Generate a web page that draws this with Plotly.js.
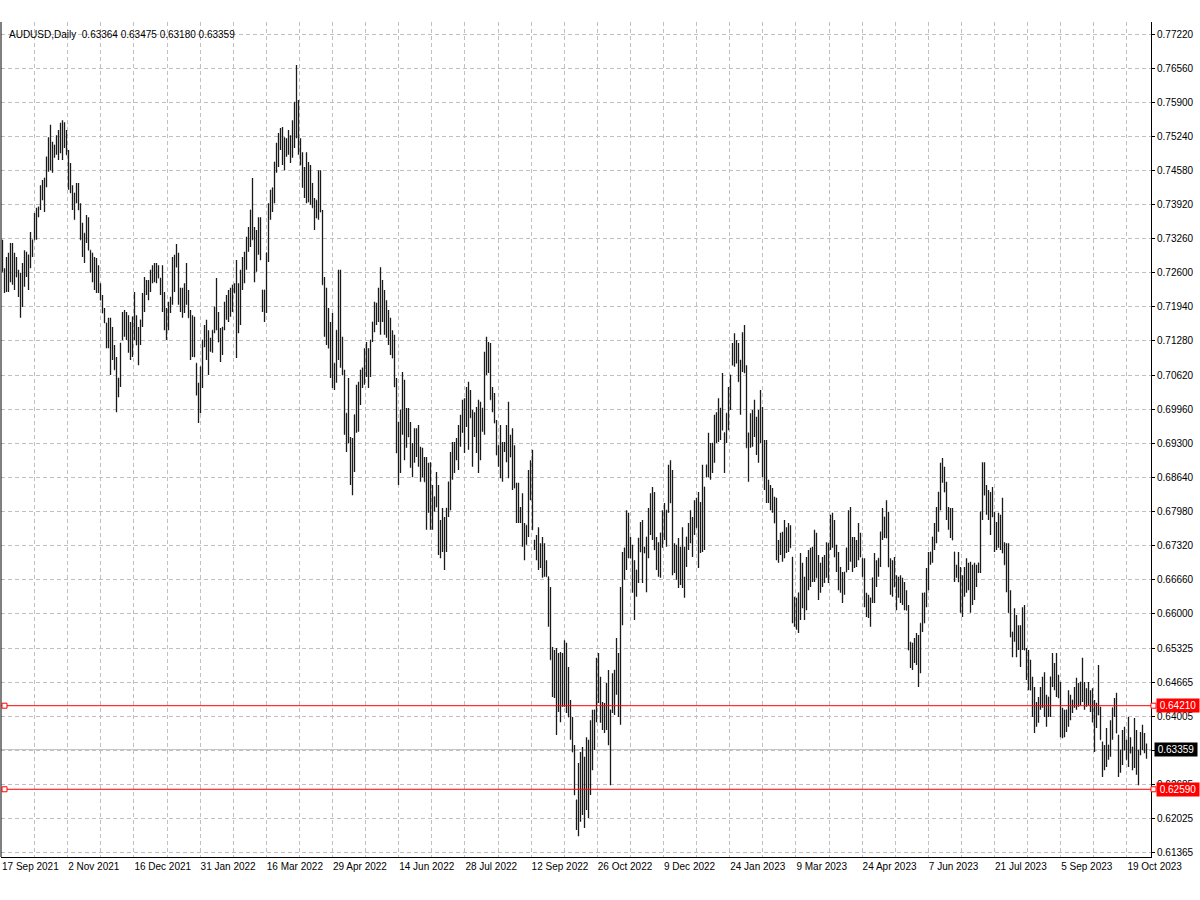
<!DOCTYPE html>
<html>
<head>
<meta charset="utf-8">
<script src="https://cdn.plot.ly/plotly-3.0.1.min.js"></script>
<style>html,body{margin:0;padding:0;background:#fff}#chart{width:1200px;height:900px}</style>
</head>
<body>
<div id="chart"></div>
<script>
const symbolName = "AUDUSD,Daily";
const dateLabels = ["17 Sep 2021","2 Nov 2021","16 Dec 2021","31 Jan 2022","16 Mar 2022","29 Apr 2022","14 Jun 2022","28 Jul 2022","12 Sep 2022","26 Oct 2022","9 Dec 2022","24 Jan 2023","9 Mar 2023","24 Apr 2023","7 Jun 2023","21 Jul 2023","5 Sep 2023","19 Oct 2023"];

const openPrices = [
0.7300,0.7262,0.7256,0.7260,0.7279,0.7277,0.7262,0.7271,0.7252,0.7215,
0.7237,0.7268,0.7275,0.7260,0.7295,0.7306,0.7324,0.7355,0.7378,0.7388,
0.7421,0.7411,0.7444,0.7485,0.7502,0.7483,0.7494,0.7508,0.7508,0.7521,
0.7518,0.7527,0.7512,0.7489,0.7444,0.7415,0.7388,0.7415,0.7407,0.7382,
0.7324,0.7308,0.7337,0.7335,0.7304,0.7269,0.7258,0.7254,0.7248,0.7223,
0.7207,0.7182,0.7163,0.7143,0.7116,0.7122,0.7095,0.7072,0.7037,0.7056,
0.7130,0.7161,0.7157,0.7142,0.7128,0.7136,0.7175,0.7149,0.7120,0.7143,
0.7169,0.7217,0.7231,0.7227,0.7244,0.7258,0.7260,0.7260,0.7262,0.7250,
0.7229,0.7186,0.7161,0.7175,0.7198,0.7213,0.7258,0.7293,0.7271,0.7207,
0.7202,0.7211,0.7238,0.7200,0.7173,0.7138,0.7136,0.7085,0.7023,0.7033,
0.7078,0.7130,0.7130,0.7105,0.7120,0.7126,0.7149,0.7194,0.7155,0.7126,
0.7128,0.7155,0.7192,0.7196,0.7202,0.7209,0.7231,0.7221,0.7192,0.7211,
0.7258,0.7269,0.7297,0.7324,0.7345,0.7382,0.7324,0.7302,0.7332,0.7326,
0.7227,0.7196,0.7227,0.7299,0.7392,0.7401,0.7425,0.7475,0.7498,0.7520,
0.7506,0.7490,0.7502,0.7512,0.7500,0.7520,0.7547,0.7591,0.7541,0.7494,
0.7469,0.7434,0.7444,0.7436,0.7430,0.7409,0.7386,0.7384,0.7401,0.7419,
0.7378,0.7237,0.7175,0.7153,0.7114,0.7109,0.7058,0.7085,0.7149,0.7171,
0.7099,0.7062,0.6950,0.6988,0.6930,0.6884,0.6928,0.6985,0.7000,0.7037,
0.7056,0.7076,0.7091,0.7076,0.7093,0.7130,0.7165,0.7180,0.7198,0.7206,
0.7206,0.7182,0.7171,0.7153,0.7136,0.7122,0.7095,0.7039,0.6911,0.6932,
0.6994,0.6975,0.6959,0.6969,0.6942,0.6897,0.6924,0.6930,0.6924,0.6888,
0.6892,0.6878,0.6855,0.6843,0.6828,0.6804,0.6810,0.6826,0.6806,0.6744,
0.6762,0.6735,0.6762,0.6804,0.6855,0.6895,0.6901,0.6919,0.6921,0.6954,
0.6981,0.6963,0.7000,0.6983,0.7006,0.6979,0.6965,0.6955,0.6942,0.6954,
0.6975,0.6998,0.7099,0.7095,0.7068,0.7014,0.6998,0.6969,0.6907,0.6913,
0.6893,0.6923,0.6928,0.6936,0.6924,0.6903,0.6884,0.6843,0.6814,0.6791,
0.6781,0.6738,0.6752,0.6771,0.6859,0.6839,0.6742,0.6727,0.6725,0.6711,
0.6707,0.6703,0.6686,0.6671,0.6579,0.6510,0.6483,0.6448,0.6465,0.6457,
0.6471,0.6483,0.6475,0.6448,0.6399,0.6364,0.6331,0.6238,0.6238,0.6263,
0.6275,0.6252,0.6289,0.6279,0.6320,0.6355,0.6374,0.6413,0.6475,0.6432,
0.6401,0.6397,0.6419,0.6417,0.6345,0.6413,0.6446,0.6490,0.6461,0.6517,
0.6647,0.6696,0.6727,0.6750,0.6727,0.6707,0.6645,0.6657,0.6684,0.6746,
0.6719,0.6723,0.6717,0.6748,0.6793,0.6793,0.6779,0.6723,0.6703,0.6711,
0.6756,0.6777,0.6764,0.6800,0.6855,0.6814,0.6707,0.6698,0.6698,0.6692,
0.6707,0.6678,0.6719,0.6748,0.6767,0.6748,0.6785,0.6795,0.6766,0.6766,
0.6802,0.6783,0.6864,0.6888,0.6893,0.6901,0.6930,0.6959,0.6975,0.6967,
0.6998,0.6950,0.6950,0.6988,0.7027,0.7081,0.7111,0.7107,0.7085,0.7049,
0.7091,0.7112,0.7066,0.6921,0.6950,0.6957,0.6977,0.6944,0.6942,0.6981,
0.6932,0.6888,0.6874,0.6835,0.6824,0.6818,0.6800,0.6775,0.6719,0.6735,
0.6729,0.6744,0.6742,0.6746,0.6748,0.6709,0.6603,0.6599,0.6601,0.6640,
0.6653,0.6628,0.6657,0.6684,0.6688,0.6694,0.6711,0.6711,0.6669,0.6669,
0.6680,0.6686,0.6703,0.6698,0.6736,0.6760,0.6744,0.6709,0.6682,0.6665,
0.6649,0.6657,0.6680,0.6727,0.6752,0.6713,0.6717,0.6715,0.6738,0.6733,
0.6707,0.6671,0.6616,0.6612,0.6601,0.6630,0.6669,0.6676,0.6688,0.6707,
0.6758,0.6766,0.6787,0.6746,0.6690,0.6667,0.6680,0.6651,0.6649,0.6647,
0.6641,0.6634,0.6626,0.6606,0.6529,0.6515,0.6527,0.6531,0.6508,0.6533,
0.6581,0.6610,0.6640,0.6682,0.6705,0.6719,0.6748,0.6771,0.6797,0.6835,
0.6876,0.6860,0.6835,0.6783,0.6775,0.6773,0.6719,0.6680,0.6690,0.6661,
0.6634,0.6661,0.6672,0.6671,0.6649,0.6655,0.6661,0.6672,0.6688,0.6698,
0.6797,0.6860,0.6829,0.6810,0.6793,0.6816,0.6787,0.6750,0.6760,0.6756,
0.6769,0.6717,0.6694,0.6669,0.6601,0.6554,0.6564,0.6556,0.6552,0.6537,
0.6570,0.6572,0.6529,0.6490,0.6481,0.6451,0.6413,0.6403,0.6413,0.6434,
0.6446,0.6442,0.6411,0.6419,0.6438,0.6477,0.6477,0.6481,0.6457,0.6436,
0.6388,0.6386,0.6391,0.6413,0.6417,0.6419,0.6432,0.6444,0.6442,0.6444,
0.6467,0.6440,0.6436,0.6444,0.6430,0.6422,0.6389,0.6401,0.6426,0.6403,
0.6351,0.6320,0.6339,0.6329,0.6345,0.6386,0.6417,0.6407,0.6364,0.6312,
0.6335,0.6356,0.6335,0.6351,0.6345,0.6329,0.6341,0.6329,0.6300,0.6335,
0.6358,0.6349,0.63364];

const highPrices = [
0.7324,0.7269,0.7291,0.7299,0.7318,0.7318,0.7299,0.7291,0.7266,0.7260,
0.7279,0.7304,0.7301,0.7295,0.7339,0.7324,0.7376,0.7386,0.7388,0.7430,
0.7440,0.7444,0.7485,0.7523,0.7547,0.7514,0.7508,0.7527,0.7537,0.7551,
0.7556,0.7552,0.7537,0.7498,0.7473,0.7430,0.7415,0.7434,0.7434,0.7395,
0.7357,0.7337,0.7372,0.7368,0.7304,0.7299,0.7291,0.7289,0.7275,0.7240,
0.7217,0.7192,0.7163,0.7173,0.7173,0.7155,0.7120,0.7097,0.7056,0.7124,
0.7184,0.7188,0.7184,0.7178,0.7165,0.7175,0.7223,0.7178,0.7155,0.7169,
0.7221,0.7252,0.7246,0.7246,0.7266,0.7275,0.7279,0.7279,0.7275,0.7250,
0.7275,0.7223,0.7192,0.7204,0.7213,0.7291,0.7295,0.7316,0.7299,0.7231,
0.7231,0.7240,0.7279,0.7227,0.7188,0.7178,0.7175,0.7085,0.7047,0.7078,
0.7130,0.7159,0.7169,0.7149,0.7134,0.7149,0.7194,0.7250,0.7184,0.7153,
0.7155,0.7204,0.7217,0.7227,0.7231,0.7237,0.7240,0.7285,0.7240,0.7266,
0.7291,0.7301,0.7330,0.7349,0.7382,0.7444,0.7349,0.7343,0.7368,0.7368,
0.7227,0.7227,0.7299,0.7395,0.7421,0.7425,0.7475,0.7512,0.7531,0.7541,
0.7543,0.7523,0.7521,0.7537,0.7527,0.7556,0.7591,0.7663,0.7595,0.7521,
0.7494,0.7465,0.7494,0.7475,0.7469,0.7434,0.7405,0.7401,0.7459,0.7459,
0.7382,0.7252,0.7231,0.7192,0.7165,0.7182,0.7085,0.7149,0.7266,0.7266,
0.7136,0.7072,0.6988,0.7056,0.6942,0.6940,0.6985,0.7043,0.7049,0.7072,
0.7076,0.7114,0.7126,0.7114,0.7130,0.7165,0.7204,0.7202,0.7231,0.7271,
0.7246,0.7227,0.7207,0.7188,0.7173,0.7149,0.7140,0.7056,0.6971,0.6994,
0.7068,0.7053,0.6998,0.6998,0.6971,0.6930,0.6959,0.6959,0.6965,0.6923,
0.6921,0.6903,0.6903,0.6892,0.6893,0.6849,0.6826,0.6874,0.6849,0.6781,
0.6804,0.6787,0.6804,0.6855,0.6913,0.6932,0.6932,0.6940,0.6965,0.6985,
0.7014,0.7017,0.7039,0.7049,0.7033,0.6994,0.6990,0.7000,0.7014,0.7010,
0.6998,0.7107,0.7136,0.7126,0.7124,0.7039,0.7027,0.6975,0.6926,0.6965,
0.6932,0.6932,0.6965,0.7010,0.6946,0.6959,0.6926,0.6853,0.6853,0.6806,
0.6833,0.6775,0.6771,0.6878,0.6897,0.6917,0.6742,0.6752,0.6767,0.6736,
0.6748,0.6736,0.6703,0.6671,0.6651,0.6535,0.6529,0.6533,0.6523,0.6525,
0.6523,0.6548,0.6543,0.6496,0.6432,0.6399,0.6345,0.6238,0.6310,0.6331,
0.6341,0.6322,0.6360,0.6355,0.6393,0.6413,0.6413,0.6514,0.6523,0.6477,
0.6428,0.6426,0.6465,0.6490,0.6413,0.6484,0.6490,0.6552,0.6523,0.6651,
0.6719,0.6727,0.6800,0.6795,0.6748,0.6733,0.6703,0.6684,0.6746,0.6777,
0.6781,0.6729,0.6748,0.6804,0.6833,0.6845,0.6835,0.6748,0.6738,0.6756,
0.6800,0.6814,0.6800,0.6888,0.6897,0.6878,0.6736,0.6733,0.6746,0.6729,
0.6767,0.6729,0.6748,0.6775,0.6800,0.6787,0.6819,0.6824,0.6835,0.6816,
0.6888,0.6845,0.6888,0.6950,0.6930,0.6930,0.6985,0.6990,0.7017,0.6998,
0.7066,0.6950,0.6988,0.7039,0.7062,0.7124,0.7143,0.7130,0.7124,0.7091,
0.7145,0.7159,0.7081,0.6950,0.6988,0.6994,0.7014,0.6981,0.6994,0.7033,
0.7000,0.6936,0.6936,0.6859,0.6849,0.6843,0.6826,0.6824,0.6742,0.6756,
0.6758,0.6781,0.6767,0.6775,0.6771,0.6709,0.6632,0.6630,0.6640,0.6717,
0.6698,0.6671,0.6709,0.6723,0.6727,0.6729,0.6762,0.6756,0.6713,0.6698,
0.6709,0.6713,0.6738,0.6736,0.6791,0.6795,0.6781,0.6733,0.6719,0.6690,
0.6680,0.6680,0.6727,0.6800,0.6806,0.6748,0.6748,0.6742,0.6775,0.6756,
0.6707,0.6707,0.6640,0.6636,0.6630,0.6669,0.6717,0.6703,0.6707,0.6758,
0.6804,0.6787,0.6819,0.6797,0.6707,0.6703,0.6709,0.6674,0.6671,0.6674,
0.6669,0.6661,0.6645,0.6616,0.6545,0.6543,0.6552,0.6562,0.6558,0.6581,
0.6640,0.6640,0.6688,0.6719,0.6719,0.6748,0.6775,0.6806,0.6835,0.6892,
0.6901,0.6884,0.6855,0.6806,0.6804,0.6804,0.6719,0.6694,0.6719,0.6690,
0.6674,0.6690,0.6707,0.6698,0.6700,0.6694,0.6698,0.6694,0.6698,0.6797,
0.6893,0.6893,0.6849,0.6839,0.6835,0.6845,0.6797,0.6777,0.6795,0.6791,
0.6824,0.6738,0.6736,0.6736,0.6645,0.6564,0.6610,0.6597,0.6577,0.6577,
0.6612,0.6616,0.6533,0.6529,0.6510,0.6477,0.6457,0.6428,0.6438,0.6457,
0.6477,0.6486,0.6442,0.6438,0.6477,0.6523,0.6504,0.6523,0.6481,0.6467,
0.6417,0.6413,0.6413,0.6451,0.6442,0.6432,0.6457,0.6475,0.6465,0.6467,
0.6514,0.6467,0.6455,0.6467,0.6451,0.6455,0.6432,0.6426,0.6500,0.6419,
0.6351,0.6345,0.6378,0.6345,0.6393,0.6417,0.6436,0.6446,0.6364,0.6335,
0.6374,0.6380,0.6355,0.6399,0.6360,0.6341,0.6397,0.6374,0.6335,0.6370,
0.6384,0.6368,0.63475];

const lowPrices = [
0.7262,0.7221,0.7223,0.7223,0.7242,0.7237,0.7227,0.7252,0.7213,0.7173,
0.7194,0.7233,0.7252,0.7227,0.7269,0.7291,0.7324,0.7324,0.7368,0.7382,
0.7401,0.7378,0.7426,0.7456,0.7459,0.7454,0.7483,0.7489,0.7479,0.7492,
0.7479,0.7502,0.7489,0.7421,0.7415,0.7382,0.7363,0.7395,0.7382,0.7324,
0.7291,0.7279,0.7318,0.7304,0.7260,0.7242,0.7227,0.7221,0.7221,0.7207,
0.7182,0.7163,0.7114,0.7114,0.7062,0.7091,0.7072,0.6990,0.7019,0.7039,
0.7130,0.7136,0.7130,0.7105,0.7091,0.7097,0.7130,0.7120,0.7081,0.7120,
0.7155,0.7184,0.7217,0.7207,0.7223,0.7240,0.7242,0.7240,0.7250,0.7217,
0.7184,0.7149,0.7130,0.7149,0.7182,0.7198,0.7223,0.7271,0.7198,0.7184,
0.7173,0.7182,0.7198,0.7173,0.7091,0.7097,0.7097,0.7023,0.6969,0.6988,
0.7037,0.7116,0.7091,0.7062,0.7107,0.7105,0.7143,0.7149,0.7126,0.7087,
0.7101,0.7149,0.7169,0.7165,0.7175,0.7184,0.7221,0.7095,0.7143,0.7159,
0.7227,0.7240,0.7266,0.7301,0.7310,0.7324,0.7242,0.7262,0.7295,0.7285,
0.7184,0.7165,0.7182,0.7281,0.7363,0.7378,0.7395,0.7454,0.7465,0.7498,
0.7469,0.7459,0.7485,0.7489,0.7473,0.7483,0.7502,0.7521,0.7489,0.7469,
0.7425,0.7405,0.7395,0.7397,0.7392,0.7386,0.7343,0.7366,0.7363,0.7378,
0.7237,0.7136,0.7120,0.7114,0.7056,0.7037,0.7033,0.7047,0.7091,0.7076,
0.7062,0.6946,0.6913,0.6930,0.6849,0.6829,0.6874,0.6950,0.6952,0.7004,
0.7037,0.7043,0.7058,0.7037,0.7058,0.7126,0.7145,0.7159,0.7165,0.7140,
0.7165,0.7140,0.7134,0.7120,0.7101,0.7095,0.7039,0.6911,0.6849,0.6872,
0.6946,0.6897,0.6921,0.6942,0.6882,0.6864,0.6892,0.6903,0.6884,0.6855,
0.6864,0.6855,0.6762,0.6795,0.6762,0.6762,0.6797,0.6806,0.6713,0.6707,
0.6719,0.6684,0.6719,0.6787,0.6800,0.6859,0.6872,0.6897,0.6878,0.6923,
0.6950,0.6911,0.6961,0.6917,0.6979,0.6884,0.6942,0.6911,0.6872,0.6897,
0.6952,0.6946,0.7062,0.7066,0.7014,0.6990,0.6969,0.6907,0.6884,0.6862,
0.6855,0.6913,0.6893,0.6862,0.6903,0.6839,0.6843,0.6775,0.6775,0.6775,
0.6729,0.6703,0.6733,0.6748,0.6819,0.6762,0.6723,0.6703,0.6684,0.6688,
0.6669,0.6671,0.6671,0.6574,0.6510,0.6438,0.6436,0.6364,0.6409,0.6389,
0.6419,0.6419,0.6407,0.6399,0.6355,0.6331,0.6248,0.6180,0.6168,0.6196,
0.6209,0.6184,0.6219,0.6203,0.6248,0.6296,0.6335,0.6389,0.6426,0.6388,
0.6374,0.6368,0.6374,0.6345,0.6267,0.6407,0.6403,0.6442,0.6399,0.6384,
0.6577,0.6665,0.6684,0.6707,0.6707,0.6640,0.6587,0.6632,0.6659,0.6719,
0.6659,0.6717,0.6641,0.6707,0.6752,0.6742,0.6723,0.6684,0.6671,0.6669,
0.6727,0.6742,0.6729,0.6795,0.6814,0.6674,0.6678,0.6665,0.6649,0.6655,
0.6649,0.6630,0.6690,0.6723,0.6736,0.6709,0.6752,0.6766,0.6688,0.6717,
0.6719,0.6723,0.6864,0.6864,0.6859,0.6872,0.6892,0.6930,0.6932,0.6936,
0.6955,0.6872,0.6930,0.6955,0.6994,0.7081,0.7078,0.7085,0.7049,0.6985,
0.7068,0.7066,0.6921,0.6855,0.6921,0.6923,0.6942,0.6907,0.6892,0.6930,
0.6864,0.6839,0.6814,0.6814,0.6800,0.6795,0.6775,0.6703,0.6698,0.6713,
0.6700,0.6707,0.6717,0.6719,0.6727,0.6581,0.6574,0.6568,0.6562,0.6587,
0.6610,0.6587,0.6606,0.6645,0.6651,0.6661,0.6661,0.6669,0.6626,0.6640,
0.6651,0.6659,0.6669,0.6659,0.6723,0.6727,0.6709,0.6680,0.6645,0.6640,
0.6620,0.6636,0.6680,0.6684,0.6700,0.6680,0.6688,0.6690,0.6703,0.6709,
0.6671,0.6612,0.6593,0.6591,0.6574,0.6620,0.6620,0.6651,0.6671,0.6690,
0.6742,0.6746,0.6746,0.6690,0.6636,0.6632,0.6651,0.6606,0.6630,0.6620,
0.6616,0.6606,0.6606,0.6529,0.6494,0.6490,0.6504,0.6500,0.6457,0.6484,
0.6564,0.6581,0.6612,0.6645,0.6694,0.6698,0.6723,0.6736,0.6758,0.6800,
0.6853,0.6835,0.6781,0.6762,0.6746,0.6742,0.6661,0.6669,0.6661,0.6601,
0.6593,0.6632,0.6640,0.6645,0.6601,0.6616,0.6626,0.6651,0.6678,0.6678,
0.6781,0.6829,0.6791,0.6781,0.6752,0.6787,0.6719,0.6723,0.6727,0.6723,
0.6717,0.6694,0.6641,0.6601,0.6554,0.6515,0.6545,0.6515,0.6529,0.6496,
0.6529,0.6529,0.6471,0.6451,0.6451,0.6399,0.6368,0.6380,0.6388,0.6413,
0.6417,0.6399,0.6380,0.6399,0.6399,0.6457,0.6451,0.6438,0.6436,0.6360,
0.6358,0.6360,0.6370,0.6380,0.6393,0.6407,0.6417,0.6413,0.6419,0.6422,
0.6428,0.6413,0.6419,0.6422,0.6409,0.6389,0.6331,0.6378,0.6403,0.6355,
0.6283,0.6296,0.6302,0.6316,0.6322,0.6355,0.6399,0.6368,0.6283,0.6291,
0.6306,0.6335,0.6316,0.6302,0.6329,0.6296,0.6300,0.6287,0.6267,0.6325,
0.6335,0.6329,0.63180];

const closePrices = [
0.7262,0.7256,0.7260,0.7279,0.7277,0.7262,0.7271,0.7252,0.7215,0.7237,
0.7268,0.7275,0.7260,0.7295,0.7306,0.7324,0.7355,0.7378,0.7388,0.7421,
0.7411,0.7444,0.7485,0.7502,0.7483,0.7494,0.7508,0.7508,0.7521,0.7518,
0.7527,0.7512,0.7489,0.7444,0.7415,0.7388,0.7415,0.7407,0.7382,0.7324,
0.7308,0.7337,0.7335,0.7304,0.7269,0.7258,0.7254,0.7248,0.7223,0.7207,
0.7182,0.7163,0.7143,0.7116,0.7122,0.7095,0.7072,0.7037,0.7056,0.7124,
0.7161,0.7157,0.7142,0.7128,0.7136,0.7175,0.7149,0.7120,0.7143,0.7169,
0.7217,0.7231,0.7227,0.7244,0.7258,0.7260,0.7260,0.7262,0.7250,0.7229,
0.7186,0.7161,0.7175,0.7198,0.7213,0.7258,0.7293,0.7271,0.7207,0.7202,
0.7211,0.7238,0.7200,0.7173,0.7138,0.7136,0.7097,0.7023,0.7033,0.7078,
0.7130,0.7130,0.7105,0.7120,0.7126,0.7149,0.7194,0.7155,0.7126,0.7128,
0.7155,0.7192,0.7196,0.7202,0.7209,0.7231,0.7221,0.7192,0.7211,0.7258,
0.7269,0.7297,0.7324,0.7345,0.7382,0.7324,0.7302,0.7332,0.7326,0.7285,
0.7196,0.7227,0.7299,0.7392,0.7401,0.7425,0.7475,0.7498,0.7520,0.7506,
0.7490,0.7502,0.7512,0.7500,0.7520,0.7547,0.7591,0.7541,0.7494,0.7469,
0.7434,0.7444,0.7436,0.7430,0.7409,0.7386,0.7384,0.7401,0.7419,0.7378,
0.7237,0.7175,0.7153,0.7114,0.7109,0.7058,0.7085,0.7149,0.7171,0.7099,
0.7062,0.6950,0.6988,0.6930,0.6884,0.6928,0.6985,0.7000,0.7037,0.7056,
0.7076,0.7091,0.7076,0.7093,0.7130,0.7165,0.7180,0.7198,0.7206,0.7206,
0.7182,0.7171,0.7153,0.7136,0.7122,0.7095,0.7039,0.6911,0.6932,0.6994,
0.6975,0.6959,0.6969,0.6942,0.6897,0.6924,0.6930,0.6924,0.6888,0.6892,
0.6878,0.6855,0.6843,0.6828,0.6804,0.6810,0.6826,0.6806,0.6744,0.6762,
0.6735,0.6762,0.6804,0.6855,0.6895,0.6901,0.6919,0.6921,0.6954,0.6981,
0.6963,0.7000,0.6983,0.7006,0.6979,0.6965,0.6955,0.6942,0.6954,0.6975,
0.6998,0.7099,0.7095,0.7068,0.7014,0.6998,0.6969,0.6907,0.6913,0.6893,
0.6923,0.6928,0.6936,0.6924,0.6903,0.6884,0.6843,0.6814,0.6791,0.6781,
0.6738,0.6752,0.6771,0.6859,0.6839,0.6762,0.6727,0.6725,0.6711,0.6707,
0.6703,0.6686,0.6671,0.6579,0.6510,0.6483,0.6448,0.6465,0.6457,0.6471,
0.6483,0.6475,0.6448,0.6399,0.6364,0.6331,0.6248,0.6238,0.6263,0.6275,
0.6252,0.6289,0.6279,0.6320,0.6355,0.6374,0.6413,0.6475,0.6432,0.6401,
0.6397,0.6419,0.6417,0.6345,0.6413,0.6446,0.6490,0.6461,0.6517,0.6647,
0.6696,0.6727,0.6750,0.6727,0.6707,0.6645,0.6657,0.6684,0.6746,0.6719,
0.6723,0.6717,0.6748,0.6793,0.6793,0.6779,0.6723,0.6703,0.6711,0.6756,
0.6777,0.6764,0.6800,0.6855,0.6814,0.6707,0.6698,0.6698,0.6692,0.6707,
0.6678,0.6719,0.6748,0.6767,0.6748,0.6785,0.6795,0.6766,0.6766,0.6802,
0.6783,0.6845,0.6888,0.6893,0.6901,0.6930,0.6959,0.6975,0.6967,0.6998,
0.6955,0.6950,0.6988,0.7027,0.7062,0.7111,0.7107,0.7085,0.7049,0.7091,
0.7112,0.7066,0.6921,0.6950,0.6957,0.6977,0.6944,0.6942,0.6981,0.6932,
0.6888,0.6874,0.6835,0.6824,0.6818,0.6800,0.6775,0.6719,0.6735,0.6729,
0.6744,0.6742,0.6746,0.6748,0.6727,0.6603,0.6599,0.6601,0.6640,0.6653,
0.6628,0.6657,0.6684,0.6688,0.6694,0.6711,0.6711,0.6669,0.6669,0.6680,
0.6686,0.6703,0.6698,0.6736,0.6760,0.6744,0.6709,0.6682,0.6665,0.6649,
0.6657,0.6680,0.6727,0.6752,0.6713,0.6717,0.6715,0.6738,0.6733,0.6709,
0.6671,0.6616,0.6612,0.6601,0.6630,0.6669,0.6676,0.6688,0.6707,0.6758,
0.6766,0.6787,0.6746,0.6690,0.6667,0.6680,0.6651,0.6649,0.6647,0.6641,
0.6634,0.6626,0.6606,0.6529,0.6515,0.6527,0.6531,0.6508,0.6533,0.6581,
0.6610,0.6640,0.6682,0.6705,0.6719,0.6748,0.6771,0.6797,0.6835,0.6876,
0.6860,0.6835,0.6783,0.6775,0.6773,0.6742,0.6680,0.6690,0.6661,0.6634,
0.6661,0.6672,0.6671,0.6649,0.6655,0.6661,0.6672,0.6688,0.6698,0.6797,
0.6860,0.6829,0.6810,0.6793,0.6816,0.6787,0.6750,0.6760,0.6756,0.6769,
0.6717,0.6694,0.6669,0.6601,0.6554,0.6564,0.6556,0.6552,0.6537,0.6570,
0.6572,0.6529,0.6490,0.6481,0.6451,0.6413,0.6403,0.6413,0.6434,0.6446,
0.6442,0.6411,0.6419,0.6438,0.6477,0.6477,0.6481,0.6457,0.6436,0.6388,
0.6386,0.6391,0.6413,0.6417,0.6419,0.6432,0.6444,0.6442,0.6444,0.6467,
0.6440,0.6436,0.6444,0.6430,0.6422,0.6389,0.6401,0.6426,0.6403,0.6355,
0.6320,0.6339,0.6329,0.6345,0.6386,0.6417,0.6407,0.6368,0.6312,0.6335,
0.6356,0.6335,0.6351,0.6345,0.6329,0.6341,0.6329,0.6300,0.6335,0.6358,
0.6349,0.6333,0.63359];

const priceTicks = [0.77220,0.76560,0.75900,0.75240,0.74580,0.73920,0.73260,0.72600,0.71940,0.71280,
  0.70620,0.69960,0.69300,0.68640,0.67980,0.67320,0.66660,0.66000,0.65325,0.64665,0.64005,0.63345,0.62685,0.62025,0.61365];
const levelLines = [0.64210, 0.62590];
const lastPrice = 0.63359;

const n = closePrices.length;
const barIndex = closePrices.map((_, i) => i);

// vertical grid every 16.55 bars, a date label on every second grid line
const gridStep = 16.55;
const xTickVals = [], xTickText = [];
for (let k = 0; k <= 34; k++) {
  xTickVals.push(-0.5 + gridStep * k);
  xTickText.push(k % 2 === 0 ? dateLabels[k / 2] : '');
}

const trace = {
  type: 'ohlc',
  x: barIndex,
  open: openPrices, high: highPrices, low: lowPrices, close: closePrices,
  increasing: {line: {color: '#1a1a1a', width: 1.3}},
  decreasing: {line: {color: '#1a1a1a', width: 1.3}},
  tickwidth: 0.25,
  hoverinfo: 'skip',
  showlegend: false
};

const last = n - 1;
const headerText = symbolName + '  ' + openPrices[last].toFixed(5) + ' ' + highPrices[last].toFixed(5) + ' ' +
  lowPrices[last].toFixed(5) + ' ' + closePrices[last].toFixed(5);

const shapes = [
  {type: 'line', xref: 'paper', yref: 'paper', x0: 0, x1: 0, y0: 0, y1: 1, line: {color: '#000', width: 1}},
  {type: 'line', xref: 'paper', yref: 'y', x0: 0, x1: 1, y0: lastPrice, y1: lastPrice, layer: 'below',
   line: {color: '#c0c0c0', width: 1}}
];
const annotations = [
  {xref: 'paper', yref: 'paper', x: 0, y: 1, xanchor: 'left', yanchor: 'top', xshift: 6, yshift: -5,
   text: headerText, showarrow: false, font: {size: 10, color: '#000'}}
];
levelLines.forEach(v => {
  shapes.push({type: 'line', xref: 'paper', yref: 'y', x0: 0, x1: 1, y0: v, y1: v, layer: 'above',
    line: {color: '#ff0000', width: 1}});
  shapes.push({type: 'rect', xref: 'paper', yref: 'y', xsizemode: 'pixel', ysizemode: 'pixel',
    xanchor: 0, x0: 1, x1: 6, yanchor: v, y0: -2.5, y1: 2.5, layer: 'above',
    line: {color: '#ff0000', width: 1}, fillcolor: '#ffffff'});
  shapes.push({type: 'rect', xref: 'paper', yref: 'y', xsizemode: 'pixel', ysizemode: 'pixel',
    xanchor: 1, x0: 0, x1: 5, yanchor: v, y0: -2.5, y1: 2.5, layer: 'above',
    line: {color: '#ff0000', width: 1}, fillcolor: '#ffffff'});
  annotations.push({xref: 'paper', yref: 'y', x: 1, y: v, xanchor: 'left', yanchor: 'middle', xshift: 5,
    text: v.toFixed(5), showarrow: false, bgcolor: '#ff0000', borderpad: 1, width: 40,
    font: {size: 10, color: '#ffffff'}});
});
annotations.push({xref: 'paper', yref: 'y', x: 1, y: lastPrice, xanchor: 'left', yanchor: 'middle', xshift: 3,
  text: lastPrice.toFixed(5), showarrow: false, bgcolor: '#000000', borderpad: 1, width: 40,
  font: {size: 10, color: '#ffffff'}});

const layout = {
  width: 1200, height: 900,
  margin: {l: 1, r: 49, t: 22, b: 43, pad: 0},
  paper_bgcolor: '#ffffff', plot_bgcolor: '#ffffff',
  showlegend: false,
  font: {family: 'Liberation Sans, Arial, sans-serif', size: 10, color: '#000'},
  xaxis: {
    type: 'linear', range: [-0.75, 574.25], fixedrange: true,
    rangeslider: {visible: false},
    tickmode: 'array', tickvals: xTickVals, ticktext: xTickText,
    ticklabelposition: 'outside right',
    showgrid: true, gridcolor: '#c0c0c0', griddash: '4px,3px', gridwidth: 1,
    showline: true, linecolor: '#000', linewidth: 1,
    ticks: '', zeroline: false,
    tickfont: {size: 10, color: '#000'}
  },
  yaxis: {
    side: 'right', range: [0.61277, 0.77463], fixedrange: true,
    tickmode: 'array', tickvals: priceTicks, ticktext: priceTicks.map(v => v.toFixed(5)),
    showgrid: true, gridcolor: '#c0c0c0', griddash: '4px,3px', gridwidth: 1,
    showline: true, linecolor: '#000', linewidth: 1,
    ticks: 'outside', ticklen: 3, tickcolor: '#000',
    zeroline: false,
    tickfont: {size: 10, color: '#000'}
  },
  shapes: shapes,
  annotations: annotations
};

Plotly.newPlot('chart', [trace], layout, {displayModeBar: false, staticPlot: true});
</script>
</body>
</html>
